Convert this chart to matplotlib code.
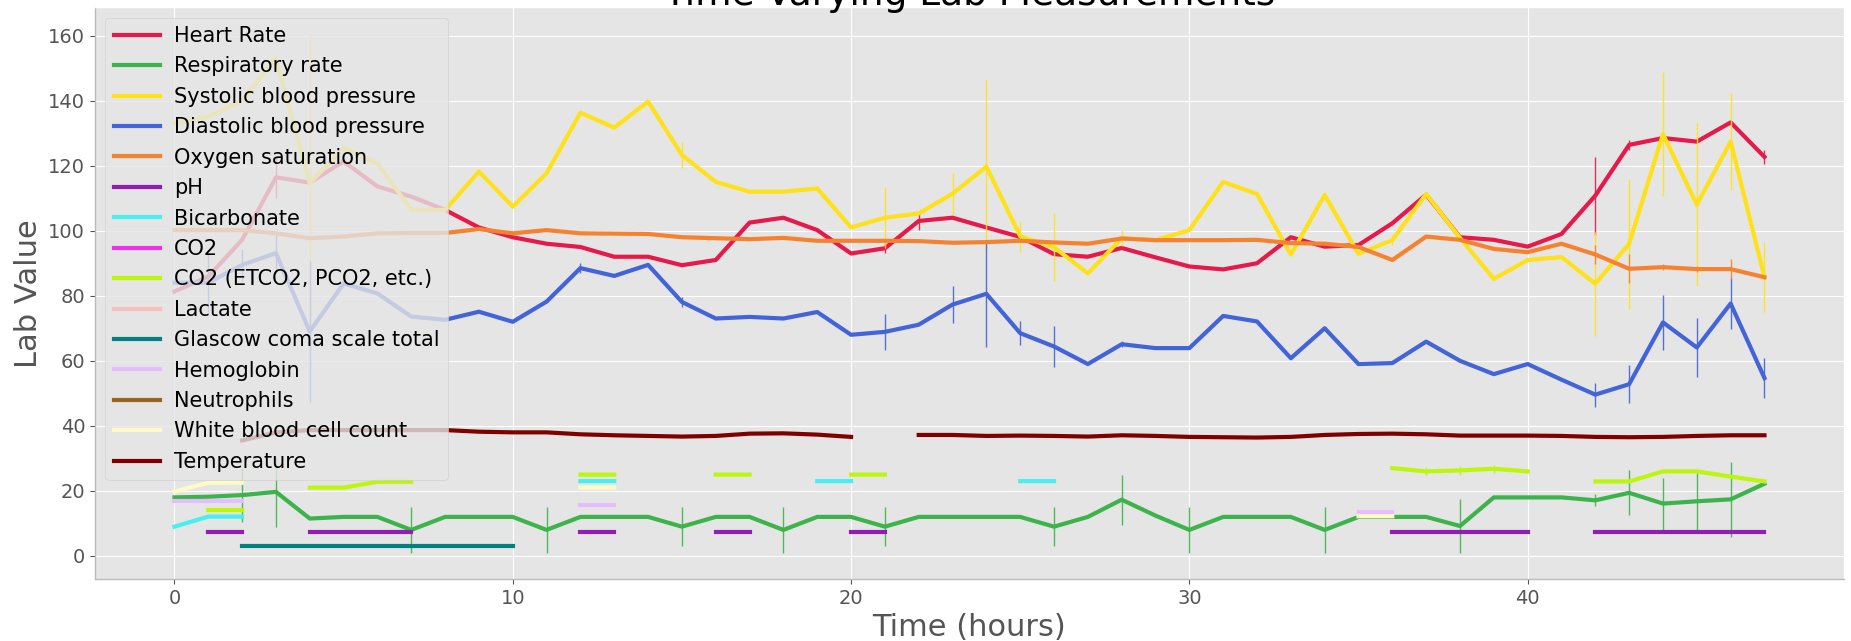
import numpy as np
import matplotlib
matplotlib.use("Agg")
import matplotlib.pyplot as plt

nan = np.nan
hours = np.arange(48)

heart_rate = [81.3, 85.9, 97.2, 116.4, 114.8, 121.3, 113.6, 110.5, 106.4, 101, 98, 96,
              95, 92, 92, 89.4, 91, 102.5, 104, 100.2, 93, 94.6, 103, 104,
              101, 98.1, 92.8, 92, 94.7, 91.8, 89, 88.1, 90, 98, 95.1, 95.6,
              102.3, 111.1, 98, 97.2, 95.1, 99, 110.8, 126.4, 128.5, 127.4, 133.3, 122.7]
resp_rate = [18, 18.2, 18.7, 19.7, 11.5, 12, 12, 8, 12, 12, 12, 8,
             12, 12, 12, 9, 12, 12, 8, 12, 12, 9, 12, 12,
             12, 12, 9, 12, 17.3, 12.4, 8, 12, 12, 12, 8, 12,
             12, 12, 9.2, 18, 18, 18, 17.1, 19.4, 16.1, 16.8, 17.4, 22.2]
systolic = [133, 135, 140, 153, 114.6, 125.4, 120.7, 106.4, 106.4, 118.2, 107.4, 117.7,
            136.3, 131.7, 139.7, 123.3, 115, 112, 112, 113, 101, 104, 105.3, 111.4,
            119.7, 98.3, 94.9, 86.9, 97.7, 97.1, 100.2, 115, 111.3, 92.7, 111, 92.9,
            97.1, 111.3, 97.8, 85.2, 91, 91.9, 83.7, 96, 129.7, 108, 127.4, 85.7]
diastolic = [84, 84, 89.5, 93.1, 69, 83.8, 80.7, 73.6, 72.6, 75.1, 72, 78.2,
             88.5, 86.1, 89.5, 78.1, 73, 73.5, 73, 75, 68, 68.9, 71.1, 77.3,
             80.6, 68.5, 64.4, 59, 65.1, 63.9, 63.9, 73.8, 72.1, 60.8, 70, 59,
             59.3, 65.9, 60, 55.9, 59, 54.2, 49.6, 52.8, 71.8, 64.1, 77.6, 54.7]
oxygen = [100.2, 100.2, 100.2, 99.2, 97.7, 98.2, 99.2, 99.3, 99.3, 100.5, 99.2, 100.2,
          99.2, 99.1, 99, 98, 97.7, 97.4, 97.8, 96.9, 96.9, 96.9, 96.8, 96.3,
          96.5, 96.9, 96.4, 96, 97.6, 97.1, 97.1, 97.1, 97.2, 96.2, 96, 95,
          91, 98.2, 97.2, 94.4, 93.4, 96, 92.7, 88.3, 88.8, 88.2, 88.2, 85.7]
ph = [nan, 7.28, 7.28, nan, 7.28, 7.28, 7.28, 7.28, nan, nan, nan, nan,
      7.35, 7.35, nan, nan, 7.35, 7.35, nan, nan, 7.35, 7.35, nan, nan,
      nan, nan, nan, nan, nan, nan, nan, nan, nan, nan, nan, nan,
      7.4, 7.4, 7.4, 7.4, 7.4, nan, 7.4, 7.4, 7.4, 7.4, 7.4, 7.4]
bicarbonate = [9, 12.1, 12.1, nan, nan, nan, nan, nan, nan, nan, nan, nan,
               23, 23, nan, nan, nan, nan, nan, 23, 23, nan, nan, nan,
               nan, 23, 23, nan, nan, nan, nan, nan, nan, nan, nan, nan,
               nan, nan, nan, nan, nan, nan, nan, nan, nan, nan, nan, nan]
co2 = [nan] * 12 + [24] + [nan] * 35
etco2 = [nan, 14.1, 14.1, nan, 21, 21, 22.8, 22.8, nan, nan, nan, nan,
         25, 25, nan, nan, 25, 25, nan, nan, 25, 25, nan, nan,
         nan, nan, nan, nan, nan, nan, nan, nan, nan, nan, nan, nan,
         27, 26, 26.3, 26.8, 26, nan, 22.9, 22.9, 26, 26, 24.4, 22.9]
lactate = [nan, nan, 2.0] + [nan] * 45
gcs = [nan, nan, 3, 3, 3, 3, 3, 3, 3, 3, 3] + [nan] * 37
hemoglobin = [17, 17, 17] + [nan] * 9 + [15.6, 15.6] + [nan] * 21 + [13.5, 13.5] + [nan] * 11
neutrophils = [nan, nan, 80] + [nan] * 45
wbc = [19.8, 22.5, 22.5] + [nan] * 9 + [21, 21] + [nan] * 21 + [12.2, 12.2] + [nan] * 11
temperature = [nan, nan, 35.5, 38, 38.7, 38.7, 38.7, 38.7, 38.7, 38.2, 38, 38,
               37.4, 37.1, 36.9, 36.7, 36.9, 37.6, 37.7, 37.3, 36.6, nan, 37.2, 37.2,
               36.9, 37, 36.9, 36.7, 37.1, 36.9, 36.6, 36.5, 36.4, 36.6, 37.2, 37.5,
               37.6, 37.4, 37, 37, 37, 36.9, 36.6, 36.5, 36.6, 36.9, 37.1, 37.1]

# standard deviations, only where the source drew an error bar
hr_err = {3: 6.4, 21: 1.5, 22: 2.8, 42: 12, 43: 1.5, 47: 2.2}
rr_err = {2: 8.2, 3: 10.7, 7: 7, 11: 7, 15: 6, 18: 7, 21: 6, 26: 6, 28: 7.7, 30: 7,
          34: 7, 38: 8.2, 42: 1.8, 43: 6.9, 44: 8, 45: 8.7, 46: 11.6}
sbp_err = {4: 46, 15: 4, 21: 9.4, 23: 6.4, 24: 26.6, 25: 4.7, 26: 10.4, 28: 2.5, 36: 1.5,
           42: 16, 43: 20, 44: 19, 45: 25, 46: 15, 47: 10.7}
dbp_err = {1: 9, 2: 5, 3: 6, 4: 21.8, 12: 1.5, 15: 1.5, 21: 5.5, 23: 5.6, 24: 16.3,
           25: 3.6, 26: 6.3, 28: 1, 42: 3.7, 43: 5.8, 44: 8.4, 45: 9.2, 46: 7.9, 47: 6.1}
o2_err = {42: 3, 43: 4.5, 44: 1, 45: 1, 46: 3}
etco2_err = {37: 1.2, 38: 1.5, 39: 1.2}

series = [
    ("Heart Rate", heart_rate, "#e6194b", hr_err),
    ("Respiratory rate", resp_rate, "#3cb44b", rr_err),
    ("Systolic blood pressure", systolic, "#ffe119", sbp_err),
    ("Diastolic blood pressure", diastolic, "#4363d8", dbp_err),
    ("Oxygen saturation", oxygen, "#f58231", o2_err),
    ("pH", ph, "#911eb4", {}),
    ("Bicarbonate", bicarbonate, "#46f0f0", {}),
    ("CO2", co2, "#f032e6", {}),
    ("CO2 (ETCO2, PCO2, etc.)", etco2, "#bcf60c", etco2_err),
    ("Lactate", lactate, "#fabebe", {}),
    ("Glascow coma scale total", gcs, "#008080", {}),
    ("Hemoglobin", hemoglobin, "#e6beff", {}),
    ("Neutrophils", neutrophils, "#9a6324", {}),
    ("White blood cell count", wbc, "#fffac8", {}),
    ("Temperature", temperature, "#800000", {}),
]

plt.style.use("ggplot")
fig = plt.figure(figsize=(18.51, 6.41), dpi=100)
ax = fig.add_axes([0.0513, 0.0967, 0.9449, 0.8919])

for name, vals, color, err in series:
    vals = np.array(vals, dtype=float)
    ax.plot(hours, vals, color=color, lw=3.0, label=name)
    if err:
        idx = np.array(list(err.keys()))
        ax.errorbar(idx, vals[idx], yerr=np.array(list(err.values())), fmt="none",
                    ecolor=color, elinewidth=1.0, alpha=0.9)

ax.set_ylim(-7.1, 168.7)
ax.set_yticks(np.arange(0, 161, 20))
ax.set_xticks([0, 10, 20, 30, 40])
ax.tick_params(labelsize=14, colors="#555555")
ax.set_xlabel("Time (hours)", fontsize=22, color="#555555")
ax.set_ylabel("Lab Value", fontsize=22, color="#555555")
# the source image is cropped through the title, only its lower part shows
fig.text(0.5238, 1 - 5 / 641, "Time-Varying Lab Measurements", fontsize=27,
         ha="center", va="baseline")
for side in ("left", "bottom"):
    ax.spines[side].set_color("#bbbbbb")

ax.legend(loc="upper left", fontsize=15, labelspacing=0.5, handlelength=2.2,
          handletextpad=0.7, borderpad=0.4, borderaxespad=0.5, framealpha=0.8)

fig.savefig("out.png", dpi=100)
